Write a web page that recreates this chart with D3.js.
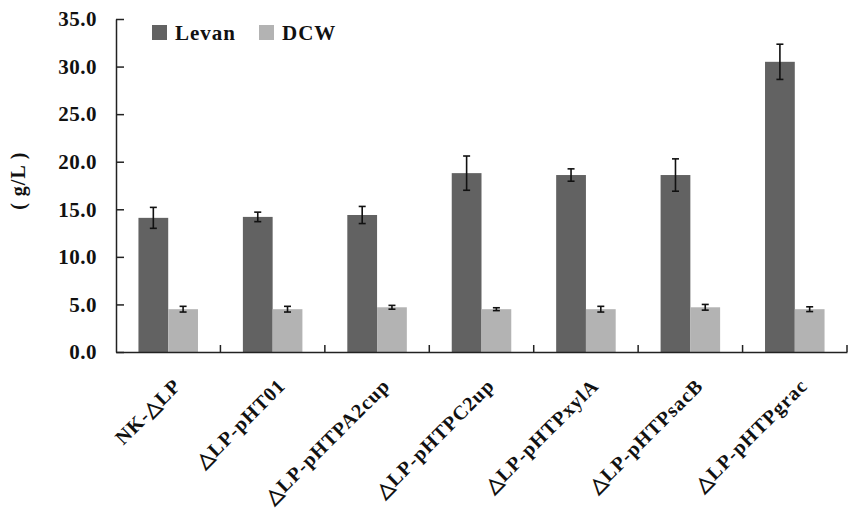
<!DOCTYPE html>
<html>
<head>
<meta charset="utf-8">
<script src="https://cdn.jsdelivr.net/npm/d3@7"></script>
<style>
  body { margin: 0; background: #fff; }
  svg text { font-family: "Liberation Serif", "Times New Roman", serif; font-weight: bold; fill: #111; }
</style>
</head>
<body>
<svg id="chart" width="849" height="515"></svg>
<script>
const strains = ["NK-\u25b3LP", "\u25b3LP-pHT01", "\u25b3LP-pHTPA2cup", "\u25b3LP-pHTPC2up", "\u25b3LP-pHTPxylA", "\u25b3LP-pHTPsacB", "\u25b3LP-pHTPgrac"];
const seriesNames = ["Levan", "DCW"];
const levan = [14.1, 14.2, 14.4, 18.8, 18.6, 18.6, 30.5];
const levanErr = [1.1, 0.5, 0.9, 1.8, 0.65, 1.7, 1.85];
const dcw = [4.5, 4.5, 4.7, 4.5, 4.5, 4.7, 4.5];
const dcwErr = [0.3, 0.3, 0.2, 0.15, 0.3, 0.3, 0.25];
const yTicks = [0, 5, 10, 15, 20, 25, 30, 35];

const colors = { Levan: "#626262", DCW: "#b3b3b3" };

const margin = { top: 19, right: 2, bottom: 163, left: 116 };
const width = 849 - margin.left - margin.right;
const height = 515 - margin.top - margin.bottom;

const svg = d3.select("#chart")
    .append("g")
    .attr("transform", `translate(${margin.left},${margin.top})`);

const x = d3.scaleBand()
    .domain(strains)
    .range([0, width]);

const x1 = d3.scaleBand()
    .domain(seriesNames)
    .range([x.bandwidth() * 0.215, x.bandwidth() * 0.785]);

const y = d3.scaleLinear()
    .domain([0, 35])
    .range([height, 0]);

const rows = strains.map((s, i) => ({
    strain: s,
    values: [
        { key: "Levan", value: levan[i], err: levanErr[i] },
        { key: "DCW", value: dcw[i], err: dcwErr[i] }
    ]
}));

const groups = svg.selectAll(".grp")
    .data(rows)
    .enter().append("g")
    .attr("class", "grp")
    .attr("transform", d => `translate(${x(d.strain)},0)`);

groups.selectAll("rect")
    .data(d => d.values)
    .enter().append("rect")
    .attr("x", d => x1(d.key))
    .attr("y", d => y(d.value))
    .attr("width", x1.bandwidth())
    .attr("height", d => height - y(d.value))
    .attr("fill", d => colors[d.key]);

// error bars
const eb = groups.selectAll(".err")
    .data(d => d.values)
    .enter().append("g")
    .attr("class", "err")
    .attr("stroke", "#111")
    .attr("stroke-width", 1.6);

eb.append("line")
    .attr("x1", d => x1(d.key) + x1.bandwidth() / 2)
    .attr("x2", d => x1(d.key) + x1.bandwidth() / 2)
    .attr("y1", d => y(d.value + d.err))
    .attr("y2", d => y(d.value - d.err));
eb.each(function(d) {
    const cx = x1(d.key) + x1.bandwidth() / 2;
    [d.value + d.err, d.value - d.err].forEach(v => {
        d3.select(this).append("line")
            .attr("x1", cx - 3.5).attr("x2", cx + 3.5)
            .attr("y1", y(v)).attr("y2", y(v));
    });
});

// y axis (ticks point inward, labels drawn separately)
const yAxis = svg.append("g")
    .call(d3.axisLeft(y).tickValues(yTicks).tickFormat("")
        .tickSizeInner(-8).tickSizeOuter(0));
yAxis.selectAll("line, path").attr("stroke", "#222").attr("stroke-width", 1.5);

svg.append("g")
    .selectAll("text")
    .data(yTicks)
    .enter().append("text")
    .attr("x", -19)
    .attr("y", d => y(d))
    .attr("dy", "0.35em")
    .attr("text-anchor", "end")
    .style("font-size", "21px")
    .style("letter-spacing", "0.5px")
    .text(d => d3.format(".1f")(d));

// x axis
const xAxis = svg.append("g")
    .attr("transform", `translate(0,${height})`)
    .call(d3.axisBottom(x).tickSize(0).tickFormat(""));
xAxis.select("path").attr("stroke", "#222").attr("stroke-width", 1.5);
xAxis.selectAll(".tick").remove();

svg.append("g")
    .selectAll("line")
    .data(strains)
    .enter().append("line")
    .attr("x1", d => x(d) + x.step())
    .attr("x2", d => x(d) + x.step())
    .attr("y1", height)
    .attr("y2", height - 7)
    .attr("stroke", "#222")
    .attr("stroke-width", 1.5);

svg.append("g")
    .selectAll("text")
    .data(strains)
    .enter().append("text")
    .attr("transform", d => `translate(${x(d) + x.bandwidth() / 2 + 14},${height + 35}) rotate(-45)`)
    .attr("text-anchor", "end")
    .style("font-size", "20px")
    .style("letter-spacing", "1px")
    .text(d => d);

// y label
svg.append("text")
    .attr("transform", `translate(${-91},${y(18)}) rotate(-90)`)
    .attr("text-anchor", "middle")
    .style("font-size", "20px")
    .style("letter-spacing", "1px")
    .text("( g/L )");

// legend
const legend = svg.append("g")
    .selectAll("g")
    .data(seriesNames)
    .enter().append("g")
    .attr("transform", (d, i) => `translate(${36 + i * 107},${6})`);
legend.append("rect")
    .attr("width", 15).attr("height", 15)
    .attr("fill", d => colors[d]);
legend.append("text")
    .attr("x", 23).attr("y", 15)
    .style("font-size", "21px")
    .style("letter-spacing", "1px")
    .text(d => d);
</script>
</body>
</html>
